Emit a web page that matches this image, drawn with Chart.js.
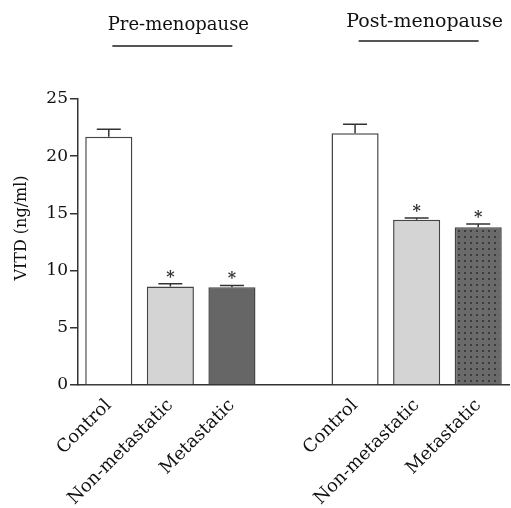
<!DOCTYPE html>
<html>
<head>
<meta charset="utf-8">
<script src="https://cdn.jsdelivr.net/npm/chart.js@4"></script>
<style>
  html, body { margin: 0; padding: 0; background: #fff; }
  #wrap { width: 511px; height: 508px; }
</style>
</head>
<body>
<div id="wrap"><canvas id="vitdChart" width="511" height="508"></canvas></div>
<script>
// values
const categories = ['Control', 'Non-metastatic', 'Metastatic', '', 'Control', 'Non-metastatic', 'Metastatic'];
const vitdMeans = [21.7, 8.6, 8.55, null, 22.0, 14.45, 13.8];
const vitdErrors = [0.65, 0.25, 0.15, null, 0.8, 0.15, 0.28];
const significant = [false, true, true, false, false, true, true];
const groupTitles = ['Pre-menopause', 'Post-menopause'];
const yTicks = [0, 5, 10, 15, 20, 25];

const serif = 'DejaVu Serif';

document.addEventListener('DOMContentLoaded', function() {
    const ctx = document.getElementById('vitdChart').getContext('2d');

    // dotted fill for the last bar
    const patCanvas = document.createElement('canvas');
    patCanvas.width = 6;
    patCanvas.height = 6;
    const pctx = patCanvas.getContext('2d');
    pctx.fillStyle = '#6a6a6a';
    pctx.fillRect(0, 0, 6, 6);
    pctx.fillStyle = '#3c3c3c';
    pctx.fillRect(2, 2, 2, 2);
    const dotted = ctx.createPattern(patCanvas, 'repeat');

    const barColors = ['#ffffff', '#d4d4d4', '#666666', '#ffffff', '#ffffff', '#d4d4d4', dotted];

    const extras = {
        id: 'extras',
        afterDatasetsDraw(chart) {
            const c = chart.ctx;
            const x = chart.scales.x;
            const y = chart.scales.y;
            c.save();
            // error bars (upper half only) and asterisks
            c.strokeStyle = '#333';
            c.lineWidth = 1.5;
            vitdMeans.forEach((v, i) => {
                if (v === null) return;
                const px = x.getPixelForValue(i);
                const top = y.getPixelForValue(v);
                const cap = y.getPixelForValue(v + vitdErrors[i]);
                c.beginPath();
                c.moveTo(px, top);
                c.lineTo(px, cap);
                c.moveTo(px - 12, cap);
                c.lineTo(px + 12, cap);
                c.stroke();
                if (significant[i]) {
                    c.fillStyle = '#333';
                    c.font = 'bold 16px "' + serif + '"';
                    c.textAlign = 'center';
                    c.textBaseline = 'alphabetic';
                    c.fillText('*', px, cap - 2);
                }
            });

            // group titles with underline
            c.fillStyle = '#111';
            c.strokeStyle = '#555';
            c.lineWidth = 2;
            c.textAlign = 'center';
            c.textBaseline = 'alphabetic';
            const groupCenters = [x.getPixelForValue(1), x.getPixelForValue(5)];
            const titleBase = [30, 27];
            const lineY = [46, 41];
            const titleSize = [18, 19];
            groupTitles.forEach((t, g) => {
                const cx = groupCenters[g];
                c.font = titleSize[g] + 'px "' + serif + '"';
                c.fillText(t, cx + 8, titleBase[g]);
                c.beginPath();
                c.moveTo(cx - 58, lineY[g]);
                c.lineTo(cx + 62, lineY[g]);
                c.stroke();
            });

            // y axis title
            c.fillStyle = '#111';
            c.font = '16px "' + serif + '"';
            c.translate(22, 228);
            c.rotate(-Math.PI / 2);
            c.textBaseline = 'middle';
            c.fillText('VITD (ng/ml)', 0, 0);
            c.restore();
        }
    };

    new Chart(ctx, {
        type: 'bar',
        data: {
            labels: categories,
            datasets: [{
                data: vitdMeans,
                backgroundColor: barColors,
                borderColor: '#444',
                borderWidth: 1.5,
                categoryPercentage: 1.0,
                barPercentage: 0.765
            }]
        },
        options: {
            responsive: false,
            animation: false,
            layout: { padding: { top: 99, right: 2, left: 0, bottom: 0 } },
            plugins: {
                legend: { display: false },
                tooltip: { enabled: false }
            },
            scales: {
                x: {
                    grid: { display: false },
                    border: { display: true, color: '#333', width: 1.5 },
                    ticks: {
                        color: '#111',
                        font: { family: serif, size: 18 },
                        minRotation: 45,
                        maxRotation: 45,
                        padding: 2
                    },
                    afterFit: function(scale) { scale.height = 123; }
                },
                y: {
                    min: 0,
                    max: 25,
                    afterBuildTicks: function(scale) {
                        scale.ticks = yTicks.map(v => ({ value: v }));
                    },
                    grid: { display: true, drawOnChartArea: false, tickLength: 8, color: '#333', lineWidth: 1.5 },
                    border: { display: true, color: '#333', width: 1.5 },
                    ticks: {
                        color: '#111',
                        font: { family: serif, size: 17 },
                        padding: 2
                    },
                    afterFit: function(scale) { scale.width = 78; }
                }
            }
        },
        plugins: [extras]
    });
});
</script>
</body>
</html>
